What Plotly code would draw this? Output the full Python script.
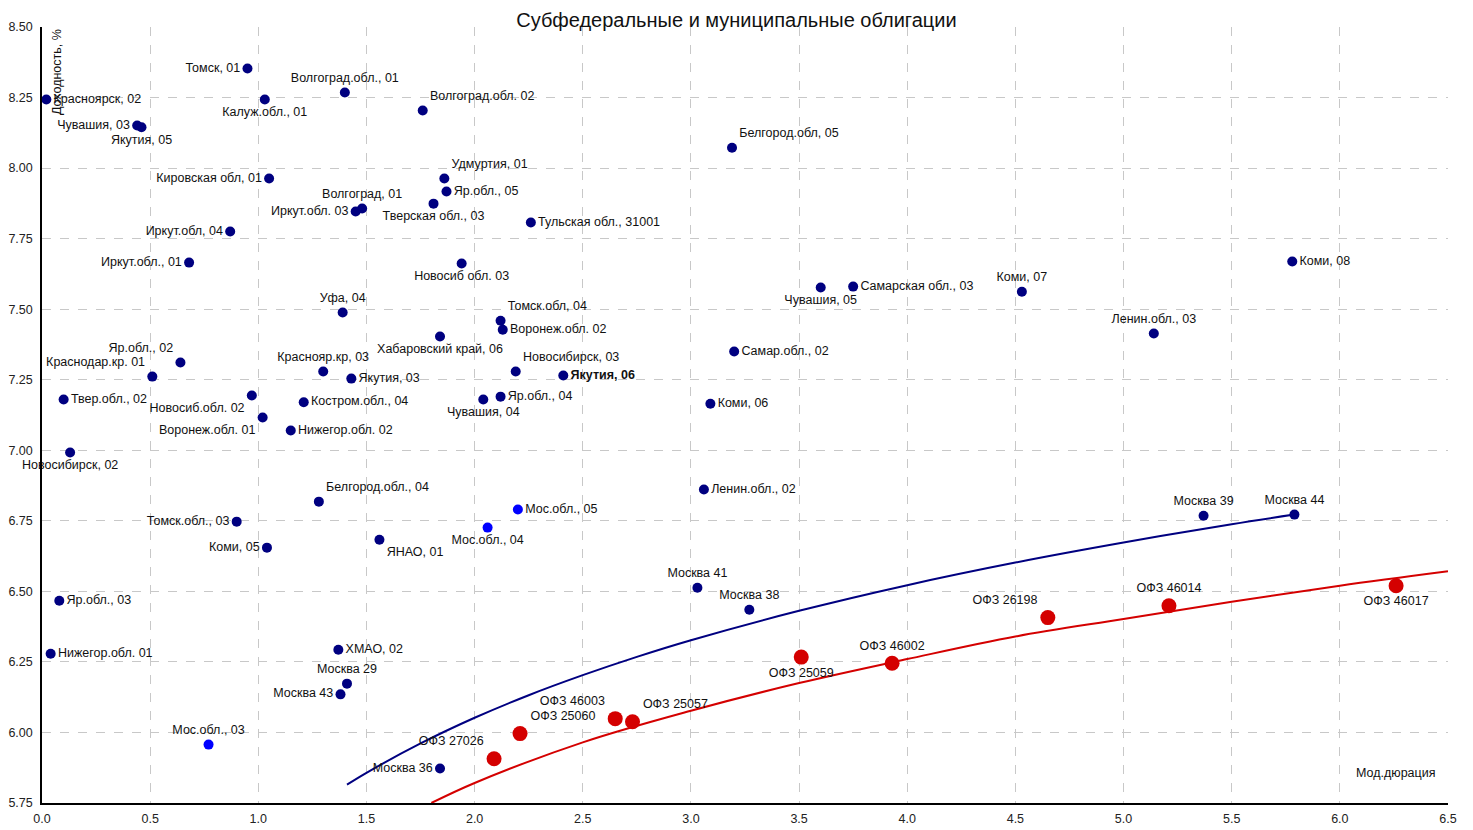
import plotly.graph_objects as go

# ---- Subfederal / municipal bonds (navy) ----
sub_names = [
    "Красноярск, 02", "Томск, 01", "Волгоград.обл., 01", "Калуж.обл., 01", "Волгоград.обл. 02",
    "Чувашия, 03", "Якутия, 05", "Белгород.обл, 05", "Удмуртия, 01", "Яр.обл., 05",
    "Кировская обл, 01", "Волгоград, 01", "Иркут.обл. 03", "Тверская обл., 03", "Тульская обл., 31001",
    "Иркут.обл, 04", "Иркут.обл., 01", "Новосиб обл. 03", "Коми, 08", "Чувашия, 05",
    "Самарская обл., 03", "Коми, 07", "Уфа, 04", "Томск.обл, 04", "Воронеж.обл. 02",
    "Ленин.обл., 03", "Хабаровский край, 06", "Самар.обл., 02", "Яр.обл., 02", "Краснояр.кр, 03",
    "Новосибирск, 03", "Краснодар.кр. 01", "Якутия, 03", "<b>Якутия, 06</b>", "Новосиб.обл. 02",
    "Твер.обл., 02", "Костром.обл., 04", "Чувашия, 04", "Яр.обл., 04", "Коми, 06",
    "Воронеж.обл. 01", "Нижегор.обл. 02", "Новосибирск, 02", "Ленин.обл., 02", "Белгород.обл., 04",
    "Москва 39", "Москва 44", "Томск.обл., 03", "ЯНАО, 01", "Коми, 05",
    "Москва 41", "Яр.обл., 03", "Москва 38", "Нижегор.обл. 01", "ХМАО, 02",
    "Москва 29", "Москва 43", "Москва 36",
]
sub_duration = [
    0.02, 0.95, 1.40, 1.03, 1.76,
    0.44, 0.46, 3.19, 1.86, 1.87,
    1.05, 1.48, 1.45, 1.81, 2.26,
    0.87, 0.68, 1.94, 5.78, 3.60,
    3.75, 4.53, 1.39, 2.12, 2.13,
    5.14, 1.84, 3.20, 0.64, 1.30,
    2.19, 0.51, 1.43, 2.41, 0.97,
    0.10, 1.21, 2.04, 2.12, 3.09,
    1.02, 1.15, 0.13, 3.06, 1.28,
    5.37, 5.79, 0.90, 1.56, 1.04,
    3.03, 0.08, 3.27, 0.04, 1.37,
    1.41, 1.38, 1.84,
]
sub_yield = [
    8.243, 8.353, 8.268, 8.243, 8.204,
    8.151, 8.145, 8.072, 7.963, 7.917,
    7.963, 7.857, 7.846, 7.874, 7.807,
    7.775, 7.665, 7.662, 7.669, 7.577,
    7.580, 7.562, 7.488, 7.459, 7.427,
    7.414, 7.403, 7.350, 7.311, 7.279,
    7.279, 7.261, 7.254, 7.265, 7.194,
    7.180, 7.170, 7.180, 7.190, 7.165,
    7.116, 7.070, 6.992, 6.861, 6.818,
    6.768, 6.772, 6.747, 6.683, 6.655,
    6.513, 6.467, 6.435, 6.279, 6.293,
    6.173, 6.135, 5.872,
]
sub_textpos = [
    "middle right", "middle left", "top center", "bottom center", "top right",
    "middle left", "bottom center", "top right", "top right", "middle right",
    "middle left", "top center", "middle left", "bottom center", "middle right",
    "middle left", "middle left", "bottom center", "middle right", "bottom center",
    "middle right", "top center", "top center", "top right", "middle right",
    "top center", "bottom center", "middle right", "top left", "top center",
    "top right", "top left", "middle right", "middle right", "bottom left",
    "middle right", "middle right", "bottom center", "middle right", "middle right",
    "bottom left", "middle right", "bottom center", "middle right", "top right",
    "top center", "top center", "middle left", "bottom right", "middle left",
    "top center", "middle right", "top center", "middle right", "middle right",
    "top center", "middle left", "middle left",
]

# ---- Moscow region bonds (bright blue) ----
mos_names = ["Мос.обл., 05", "Мос.обл., 04", "Мос.обл., 03"]
mos_duration = [2.20, 2.06, 0.77]
mos_yield = [6.790, 6.726, 5.957]
mos_textpos = ["middle right", "bottom center", "top center"]

# ---- OFZ (red) ----
ofz_names = ["ОФЗ 27026", "ОФЗ 25060", "ОФЗ 46003", "ОФЗ 25057", "ОФЗ 25059",
             "ОФЗ 46002", "ОФЗ 26198", "ОФЗ 46014", "ОФЗ 46017"]
ofz_duration = [2.09, 2.21, 2.65, 2.73, 3.51, 3.93, 4.65, 5.21, 6.26]
ofz_yield = [5.907, 5.996, 6.049, 6.038, 6.267, 6.245, 6.407, 6.449, 6.520]
ofz_textpos = ["top left", "top right", "top left", "top right", "bottom center",
               "top center", "top left", "top center", "bottom center"]

# ---- Trend curves ----
blue_curve_x = [1.41, 1.5, 1.75, 2.0, 2.25, 2.5, 2.75, 3.0, 3.5, 4.0, 4.5, 5.0, 5.5, 5.79]
blue_curve_y = [5.815, 5.857, 5.961, 6.052, 6.132, 6.203, 6.268, 6.327, 6.431, 6.522, 6.602, 6.673, 6.738, 6.772]
red_curve_x = [1.80, 2.0, 2.5, 3.0, 3.5, 4.0, 4.5, 5.0, 5.5, 6.0, 6.5]
red_curve_y = [5.750, 5.821, 5.965, 6.077, 6.175, 6.260, 6.340, 6.402, 6.463, 6.520, 6.571]

x_ticks = [0.0, 0.5, 1.0, 1.5, 2.0, 2.5, 3.0, 3.5, 4.0, 4.5, 5.0, 5.5, 6.0, 6.5]
y_ticks = [5.75, 6.00, 6.25, 6.50, 6.75, 7.00, 7.25, 7.50, 7.75, 8.00, 8.25, 8.50]

FONT = "Liberation Sans, Arial, sans-serif"
NAVY = "#000080"
BLUE = "#0000ff"
RED = "#d40000"
LABEL_SIZE = 12.5

fig = go.Figure()

fig.add_trace(go.Scatter(x=blue_curve_x, y=blue_curve_y, mode="lines",
                         line=dict(color=NAVY, width=2, shape="spline"),
                         hoverinfo="skip", showlegend=False))
fig.add_trace(go.Scatter(x=red_curve_x, y=red_curve_y, mode="lines",
                         line=dict(color=RED, width=2, shape="spline"),
                         hoverinfo="skip", showlegend=False))

fig.add_trace(go.Scatter(x=sub_duration, y=sub_yield, mode="markers+text",
                         text=sub_names, textposition=sub_textpos,
                         textfont=dict(family=FONT, size=LABEL_SIZE, color="#111"),
                         marker=dict(color=NAVY, size=10),
                         cliponaxis=False, showlegend=False))
fig.add_trace(go.Scatter(x=mos_duration, y=mos_yield, mode="markers+text",
                         text=mos_names, textposition=mos_textpos,
                         textfont=dict(family=FONT, size=LABEL_SIZE, color="#111"),
                         marker=dict(color=BLUE, size=10),
                         cliponaxis=False, showlegend=False))
fig.add_trace(go.Scatter(x=ofz_duration, y=ofz_yield, mode="markers+text",
                         text=ofz_names, textposition=ofz_textpos,
                         textfont=dict(family=FONT, size=LABEL_SIZE, color="#111"),
                         marker=dict(color=RED, size=15),
                         cliponaxis=False, showlegend=False))

# The page body adds an 8px margin, so the figure is offset and margins are shifted.
fig.update_layout(
    width=1457, height=822,
    margin=dict(l=34, r=17, t=19, b=27, autoexpand=False),
    paper_bgcolor="white", plot_bgcolor="white",
    font=dict(family=FONT, size=12, color="#222"),
    title=dict(text="Субфедеральные и муниципальные облигации",
               x=0.5, xanchor="center", y=0.9945, yanchor="top",
               font=dict(family=FONT, size=20, color="#111")),
    showlegend=False,
    annotations=[
        dict(text="Доходность, %", xref="paper", yref="paper", x=0.0107, y=1.0,
             xanchor="center", yanchor="top", textangle=-90, showarrow=False,
             font=dict(family=FONT, size=12.5, color="#111")),
        dict(text="Мод.дюрация", xref="paper", yref="paper", x=0.992, y=0.039,
             xanchor="right", yanchor="middle", showarrow=False,
             font=dict(family=FONT, size=12.5, color="#111")),
    ],
)
fig.update_xaxes(range=[0, 6.5], tickvals=x_ticks, ticktext=[f"{v:.1f}" for v in x_ticks],
                 automargin=False, ticklabelstandoff=3,
                 showgrid=True, gridcolor="#c8c8c8", griddash="dash", gridwidth=1,
                 showline=True, linecolor="#000", linewidth=1.5, zeroline=False,
                 ticks="", tickfont=dict(family=FONT, size=12.5, color="#222"))
fig.update_yaxes(range=[5.75, 8.5], tickvals=y_ticks, ticktext=[f"{v:.2f}" for v in y_ticks],
                 automargin=False, ticklabelstandoff=5,
                 showgrid=True, gridcolor="#c8c8c8", griddash="dash", gridwidth=1,
                 showline=True, linecolor="#000", linewidth=1.5, zeroline=False,
                 ticks="", tickfont=dict(family=FONT, size=12.5, color="#222"))

fig.write_html("out.html")
